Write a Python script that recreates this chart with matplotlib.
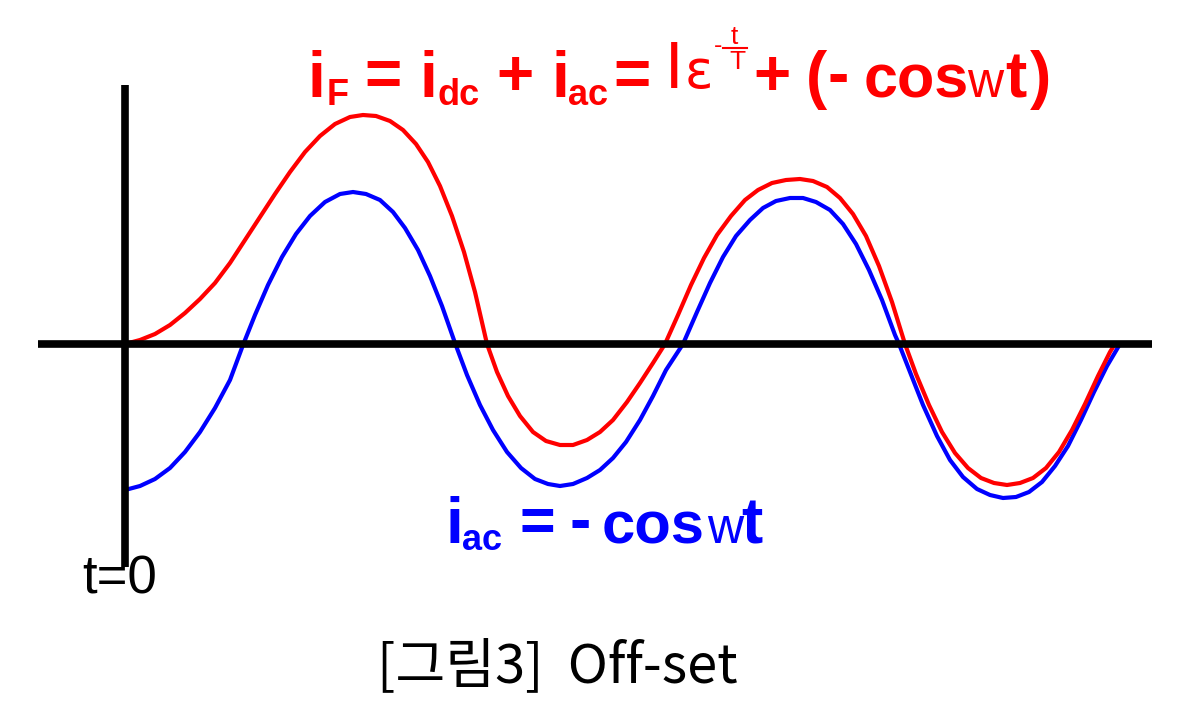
import matplotlib
matplotlib.use("Agg")
import matplotlib.pyplot as plt
from matplotlib.lines import Line2D

# valores (t = pixeles desde el origen, i = pixeles hacia arriba)
t_ac = [0, 15, 30, 45, 60, 75, 90, 105, 118, 130, 143, 157, 171, 185, 200, 215, 228,
        241, 255, 268, 280, 293, 305, 317, 330, 342, 355, 368, 382, 396, 410, 423, 435,
        448, 462, 475, 488, 501, 515, 528, 541, 558, 572, 585, 598, 611, 625, 638, 651,
        665, 678, 691, 705, 718, 731, 744, 757, 770, 774, 785, 798, 812, 825, 838, 852,
        865, 878, 891, 904, 917, 930, 943, 956, 969, 982, 995]
i_ac = [-146, -142, -135, -124, -108, -88, -64, -36, -1, 29, 59, 87, 110, 128, 142, 150, 152,
        150, 144, 132, 116, 94, 68, 38, 1, -31, -61, -86, -108, -124, -135, -140, -142,
        -140, -134, -126, -114, -98, -76, -52, -26, 0, 32, 61, 87, 108, 124, 136, 143,
        146, 146, 142, 134, 120, 100, 74, 44, 9, 0, -28, -61, -92, -116, -133, -145,
        -151, -154, -153, -148, -138, -122, -102, -76, -48, -22, 0]

t_F = [0, 15, 30, 45, 60, 75, 90, 105, 120, 135, 150, 165, 180, 195, 210, 225, 238,
       251, 265, 278, 291, 303, 315, 327, 339, 350, 362, 372, 383, 395, 408, 421, 435,
       448, 462, 475, 488, 502, 515, 528, 540, 553, 566, 579, 592, 606, 620, 633, 647,
       661, 675, 688, 702, 715, 728, 741, 754, 767, 780, 791, 804, 817, 830, 843, 856,
       869, 882, 895, 908, 921, 934, 947, 960, 973, 985, 990]
i_F = [0, 4, 10, 19, 31, 45, 61, 81, 104, 127, 150, 172, 192, 208, 220, 227, 229,
       228, 223, 214, 200, 182, 158, 128, 92, 52, 0, -28, -52, -72, -88, -97, -101,
       -101, -96, -88, -76, -58, -39, -19, 0, 29, 59, 86, 109, 128, 144, 154, 161,
       164, 165, 163, 157, 146, 130, 108, 78, 42, 0, -30, -61, -88, -109, -124, -134,
       -139, -141, -139, -134, -124, -108, -86, -60, -32, -8, 0]

W, H = 1200, 725
fig = plt.figure(figsize=(12, 7.25), dpi=100)
ax = fig.add_axes([0, 0, 1, 1])
# origen en el pixel (125, 344)
ax.set_xlim(-125, W - 125)
ax.set_ylim(344 - H, 344)
ax.axis('off')

rojo = (1, 0, 0)
azul = (0, 0, 1)

ax.plot(t_ac, i_ac, color=azul, linewidth=3, solid_capstyle='round',
        solid_joinstyle='round', zorder=2)
ax.plot(t_F, i_F, color=rojo, linewidth=3, solid_capstyle='round',
        solid_joinstyle='round', zorder=3)

# ejes del dibujo
ax.hlines(0, -87, 1027, color='black', linewidth=5.5, zorder=4)
ax.vlines(0, -223, 259, color='black', linewidth=5.5, zorder=4)


def put(x, y, s, size, color, weight='bold', family='Liberation Sans', ha='left'):
    fig.text(x / W, 1 - y / H, s, fontsize=size, color=color, fontweight=weight,
             family=family, ha=ha, va='baseline')


# ecuacion roja
put(308, 97, 'i', 46, rojo)
put(327, 105, 'F', 26, rojo)
put(364, 95, '=', 46, rojo)
put(420, 97, 'i', 46, rojo)
put(437, 105, 'dc', 26, rojo)
put(496, 95, '+', 46, rojo)
put(552, 97, 'i', 46, rojo)
put(568, 105, 'ac', 26, rojo)
put(613, 95, '=', 46, rojo)
put(665, 88, 'I', 48, rojo, weight='normal')
put(685, 88, 'ε', 38, rojo, weight='normal', family='DejaVu Sans')
put(714, 53, '-', 18, rojo, weight='normal')
put(731, 44, 't', 19, rojo, weight='normal')
put(729, 69, 'T', 19, rojo, weight='normal')
fig.add_artist(Line2D([723 / W, 747 / W], [1 - 48 / H, 1 - 48 / H], color=rojo, linewidth=1.5))
put(753, 95, '+', 46, rojo)
put(806, 97, '(', 46, rojo)
put(828, 95, '-', 46, rojo)
put(864, 97, 'cos', 44, rojo)
put(967, 97, 'w', 36, rojo, weight='normal')
put(1005, 97, 't', 46, rojo)
put(1030, 97, ')', 46, rojo)

# ecuacion azul
put(446, 543, 'i', 46, azul)
put(462, 550, 'ac', 26, azul)
put(519, 541, '=', 44, azul)
put(570, 541, '-', 46, azul)
put(602, 543, 'cos', 43, azul)
put(707, 543, 'w', 36, azul, weight='normal')
put(741, 543, 't', 46, azul)

put(82, 593, 't=0', 38, 'black', weight='normal')

put(557, 682, '[그림3]  Off-set', 39, 'black', weight='normal',
    family=['Noto Sans CJK KR', 'DejaVu Sans'], ha='center')

fig.savefig('out.png', dpi=100, facecolor='white')
